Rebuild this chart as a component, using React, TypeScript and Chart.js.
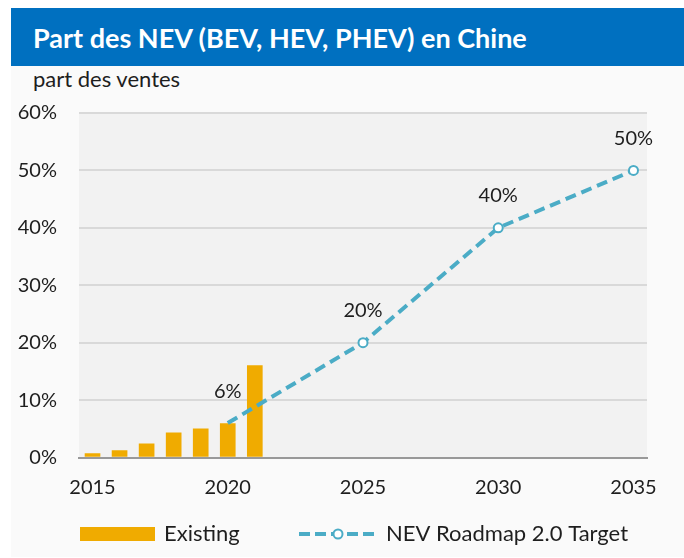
import React, { useEffect, useRef } from "react";
import { Chart, registerables } from "chart.js";

Chart.register(...registerables);

// ---- data ----
const existingYears = [2015, 2016, 2017, 2018, 2019, 2020, 2021];
const existingShare = [0.7, 1.2, 2.4, 4.3, 5.0, 5.9, 16.0];
const targetYears = [2020, 2025, 2030, 2035];
const targetShare = [6, 20, 40, 50];
const xTickYears = [2015, 2020, 2025, 2030, 2035];
const yTickValues = [0, 10, 20, 30, 40, 50, 60];

const titleText = "Part des NEV (BEV, HEV, PHEV) en Chine";
const subtitleText = "part des ventes";
const existingLabel = "Existing";
const targetLabel = "NEV Roadmap 2.0 Target";

const FONT = "Lato, 'Open Sans', sans-serif";
const BAR_COLOR = "#F0AB00";
const LINE_COLOR = "#4BACC6";
const TEXT_COLOR = "#1e1e1e";

const plotBg = {
  id: "plotBg",
  beforeDraw(chart: any) {
    const { ctx, chartArea } = chart;
    ctx.save();
    ctx.fillStyle = "#f2f2f2";
    ctx.fillRect(chartArea.left, chartArea.top, chartArea.right - chartArea.left, chartArea.bottom - chartArea.top);
    ctx.restore();
  },
};

const valueLabels = {
  id: "valueLabels",
  afterDatasetsDraw(chart: any) {
    const { ctx } = chart;
    const meta = chart.getDatasetMeta(1);
    ctx.save();
    ctx.font = `20px ${FONT}`;
    ctx.fillStyle = TEXT_COLOR;
    ctx.textAlign = "center";
    ctx.textBaseline = "middle";
    meta.data.forEach((pt: any, i: number) => {
      ctx.fillText(`${targetShare[i]}%`, pt.x, pt.y - 32);
    });
    ctx.restore();
  },
};

const customLegend = {
  id: "customLegend",
  afterDraw(chart: any) {
    const { ctx } = chart;
    const cy = 468;
    ctx.save();
    // bar swatch
    ctx.fillStyle = BAR_COLOR;
    ctx.fillRect(80, cy - 7, 75, 14);
    ctx.font = `22px ${FONT}`;
    ctx.fillStyle = TEXT_COLOR;
    ctx.textBaseline = "middle";
    ctx.textAlign = "left";
    ctx.fillText(existingLabel, 164, cy);
    // line swatch
    ctx.strokeStyle = LINE_COLOR;
    ctx.lineWidth = 4;
    ctx.setLineDash([11, 5]);
    ctx.beginPath();
    ctx.moveTo(299, cy);
    ctx.lineTo(377, cy);
    ctx.stroke();
    ctx.setLineDash([]);
    ctx.beginPath();
    ctx.arc(338, cy, 4.5, 0, Math.PI * 2);
    ctx.fillStyle = "#ffffff";
    ctx.fill();
    ctx.lineWidth = 2;
    ctx.stroke();
    ctx.fillStyle = TEXT_COLOR;
    ctx.fillText(targetLabel, 386, cy);
    ctx.restore();
  },
};

function NevChart() {
  const ref = useRef<HTMLCanvasElement | null>(null);
  useEffect(() => {
    if (!ref.current) return;
    const chart = new Chart(ref.current, {
      type: "bar",
      data: {
        datasets: [
          {
            type: "bar",
            label: existingLabel,
            data: existingYears.map((x, i) => ({ x, y: existingShare[i] })),
            backgroundColor: BAR_COLOR,
            barThickness: 15,
            order: 2,
          } as any,
          {
            type: "line",
            label: targetLabel,
            data: targetYears.map((x, i) => ({ x, y: targetShare[i] })),
            borderColor: LINE_COLOR,
            borderWidth: 4,
            borderDash: [11, 6],
            tension: 0,
            pointRadius: targetYears.map((_, i) => (i === 0 ? 0 : 4.5)),
            pointBackgroundColor: "#ffffff",
            pointBorderColor: LINE_COLOR,
            pointBorderWidth: 2,
            order: 1,
          } as any,
        ],
      },
      options: {
        animation: false,
        responsive: false,
        maintainAspectRatio: false,
        layout: { padding: { top: 47, right: 37, left: 0, bottom: 0 } },
        plugins: {
          legend: { display: false },
          tooltip: { enabled: false },
          title: { display: false },
        },
        scales: {
          x: {
            type: "linear",
            min: 2014.5,
            max: 2035.5,
            offset: false,
            afterBuildTicks: (axis: any) => {
              axis.ticks = xTickYears.map((v) => ({ value: v }));
            },
            afterFit: (scale: any) => {
              scale.height = 100.5;
            },
            grid: { display: false, drawTicks: false },
            border: { display: true, color: "#999999", width: 2 },
            ticks: {
              font: { family: FONT, size: 20 },
              color: TEXT_COLOR,
              padding: 18,
              maxRotation: 0,
              autoSkip: false,
              callback: (v: any) => String(v),
            },
          },
          y: {
            min: 0,
            max: 60,
            afterBuildTicks: (axis: any) => {
              axis.ticks = yTickValues.map((v) => ({ value: v }));
            },
            afterFit: (scale: any) => {
              scale.width = 79;
            },
            grid: { color: "#d9d9d9", lineWidth: 2, drawTicks: false },
            border: { display: false },
            ticks: {
              font: { family: FONT, size: 20 },
              color: TEXT_COLOR,
              padding: 22,
              callback: (v: any) => `${v}%`,
            },
          },
        },
      } as any,
      plugins: [plotBg, valueLabels, customLegend],
    });
    return () => chart.destroy();
  }, []);
  return (
    <canvas
      ref={ref}
      width={684}
      height={492}
      style={{ position: "absolute", left: 0, top: 66, width: 684, height: 492 }}
    />
  );
}

export default function App() {
  return (
    <div
      style={{
        position: "fixed",
        left: 0,
        top: 0,
        width: 684,
        height: 558,
        background: "#ffffff",
        overflow: "hidden",
        fontFamily: FONT,
      }}
    >
      <div style={{ position: "absolute", left: 11, top: 8, width: 673, height: 549, background: "#fafafa" }} />
      <div style={{ position: "absolute", left: 11, top: 8, width: 673, height: 58, background: "#0070C0" }} />
      <div
        style={{
          position: "absolute",
          left: 33,
          top: 9,
          height: 58,
          lineHeight: "58px",
          color: "#ffffff",
          fontWeight: 700,
          fontSize: 27,
          whiteSpace: "nowrap",
        }}
      >
        {titleText}
      </div>
      <div
        style={{
          position: "absolute",
          left: 33,
          top: 66,
          height: 26,
          lineHeight: "26px",
          color: TEXT_COLOR,
          fontSize: 22,
          whiteSpace: "nowrap",
        }}
      >
        {subtitleText}
      </div>
      <NevChart />
    </div>
  );
}
